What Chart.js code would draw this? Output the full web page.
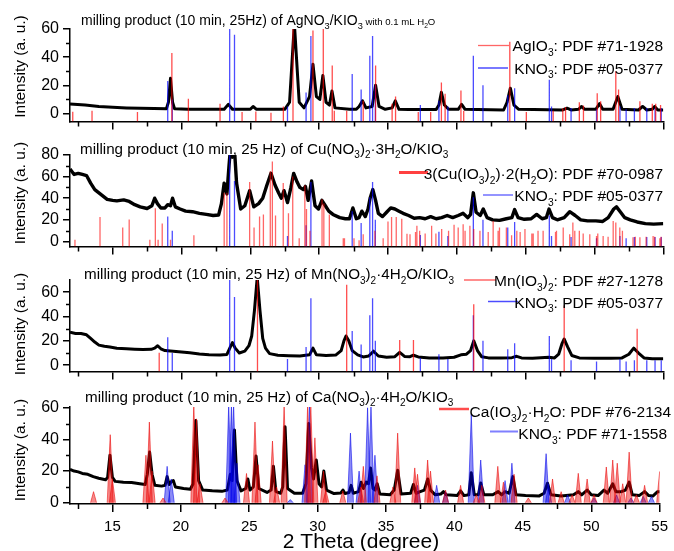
<!DOCTYPE html>
<html>
<head>
<meta charset="utf-8">
<script src="https://cdn.jsdelivr.net/npm/chart.js@4.4.1/dist/chart.umd.min.js"></script>
<style>
  html, body { margin: 0; padding: 0; background: #fff; }
  #wrap { position: relative; width: 674px; height: 551px; overflow: hidden; background: #fff; }
  #wrap canvas { position: absolute; left: 0; }
</style>
</head>
<body>
<div id="wrap">
  <canvas id="p1" width="674" height="135" style="top:0px"></canvas>
  <canvas id="p2" width="674" height="125" style="top:135px"></canvas>
  <canvas id="p3" width="674" height="125" style="top:260px"></canvas>
  <canvas id="p4" width="674" height="166" style="top:385px"></canvas>
</div>
<script>
// ---------- axis ticks ----------
const xMajorTicks = [15, 20, 25, 30, 35, 40, 45, 50, 55];
const xMinorTicks = [12.5, 17.5, 22.5, 27.5, 32.5, 37.5, 42.5, 47.5, 52.5];
const yTicksP1 = [0, 20, 40, 60];
const yTicksP2 = [0, 20, 40, 60, 80];
const yTicksP3 = [0, 20, 40, 60];
const yTicksP4 = [0, 20, 40, 60];

// ---------- measured patterns [2theta, intensity] ----------
const agPattern = [[11.9,6.8],[13,6],[14,5],[15,4.5],[16,4],[17,3.7],[18,3.5],[18.9,3.3],[19.05,8],[19.2,25],[19.35,8],[19.5,3.3],[20.5,3],[21.5,3],[23.1,3],[23.4,6.5],[23.7,3],[25.0,3],[25.2,5],[25.45,3],[27.5,3],[27.85,8],[28.05,40],[28.2,64],[28.35,40],[28.55,8],[28.9,4],[29.3,12],[29.55,35],[29.8,12],[30.05,10],[30.27,27],[30.5,8],[30.75,6],[30.93,16],[31.15,4],[32.2,3],[32.7,3],[32.9,5],[33.15,9],[33.4,4],[33.85,5],[34.1,20],[34.35,5],[34.8,3],[35.3,4],[35.53,9],[35.8,3],[36.5,2.8],[38.5,2.8],[38.7,6],[38.88,15],[39.1,6],[39.4,3],[40.1,3],[40.35,6.5],[40.6,3],[43.4,2.5],[43.65,8],[43.89,18],[44.15,6],[44.5,3],[47.7,2.5],[48.0,3.8],[48.3,2.5],[48.85,3],[49.05,5],[49.3,3],[50.1,3],[50.37,7],[50.6,3],[51.35,3],[51.7,12],[52.0,3],[53.2,2.5],[53.5,5],[53.8,2.5],[54.2,3],[54.37,5],[54.6,2.5],[55,2.5]];

const cuPattern = [[11.9,67],[12.2,62],[12.5,63],[12.8,62],[13.1,61],[13.4,54],[13.7,48],[14.0,45],[14.3,42],[14.6,39],[15.0,38],[15.3,37.5],[15.8,38.5],[16.2,37],[16.6,34],[17.0,32],[17.5,30.5],[17.85,33],[18.05,40],[18.25,35],[18.5,31],[18.8,31],[19.0,34],[19.2,33],[19.35,40],[19.55,32],[19.9,30],[20.3,28],[20.8,27.5],[21.3,26],[21.8,25],[22.3,24],[22.7,24.5],[22.9,35],[23.1,54],[23.3,44],[23.45,70],[23.55,85],[23.7,78],[23.85,85],[24.0,54],[24.3,30],[24.6,33],[24.95,47],[25.25,32],[25.6,35],[25.9,40],[26.2,52],[26.5,63],[26.8,52],[27.05,45],[27.25,40],[27.45,47],[27.7,36],[27.95,50],[28.15,63],[28.4,55],[28.6,50],[28.85,48],[29.0,51],[29.2,38],[29.45,56],[29.7,33],[29.95,30],[30.2,38],[30.45,33],[30.7,28],[31.0,25],[31.5,22],[31.9,21],[32.2,21],[32.45,31],[32.7,21],[32.9,22],[33.1,28],[33.35,23],[33.55,30],[33.7,40],[33.9,48],[34.1,38],[34.3,26],[34.6,23],[34.9,27],[35.2,31],[35.5,30],[35.8,28],[36.1,26],[36.5,24],[36.9,21.5],[37.3,22],[37.7,21],[38.1,23],[38.5,21],[38.9,22],[39.3,24],[39.7,22],[40.1,24],[40.45,26],[40.8,22],[41.0,25],[41.2,45],[41.4,27],[41.7,24],[41.92,30],[42.2,22],[42.6,20],[43.1,19.5],[43.6,21],[44.0,22],[44.2,29.5],[44.45,22],[44.9,20.5],[45.4,21],[45.8,25],[46.2,21],[46.5,22],[46.7,30],[46.95,22],[47.3,20],[47.8,22],[48.2,27.5],[48.6,24],[49.0,20],[49.5,19],[50.1,19],[50.6,18.5],[51.0,22],[51.4,30],[51.6,32],[51.9,27],[52.2,22],[52.6,20],[53.1,18],[53.7,16.5],[54.3,16],[55,16.5]];

const mnPattern = [[11.9,27],[12.3,26],[12.7,26],[13.1,25],[13.4,22],[13.7,19],[14.0,16.5],[14.4,15.5],[14.8,15],[15.3,14],[16.0,13.6],[16.6,13.2],[17.2,12.9],[17.8,13],[18.05,14],[18.27,16],[18.5,13.5],[18.8,12],[19.4,11.5],[20.0,10.8],[20.6,10.2],[21.3,9.2],[22.0,8.6],[22.8,8.3],[23.3,8.8],[23.55,15],[23.7,18.5],[23.9,14],[24.2,10],[24.6,11.5],[24.9,16],[25.1,24],[25.3,45],[25.5,72],[25.7,45],[25.9,22],[26.1,14],[26.4,9.5],[27.0,8.2],[27.8,7.8],[28.6,7.6],[29.3,8.5],[29.55,14],[29.8,8.5],[30.5,8],[31.2,8.3],[31.6,12],[31.8,20],[31.95,24],[32.15,20],[32.4,12],[32.8,8.5],[33.2,6.8],[33.6,7.5],[33.95,11.5],[34.3,7.5],[34.9,6.5],[35.5,7],[35.85,10.5],[36.2,7.2],[36.6,7],[36.85,8.2],[37.2,6.8],[38,6],[39,6],[39.8,6.5],[40.3,8.5],[40.7,9],[41.0,12],[41.23,20],[41.5,12],[41.8,7],[42.3,6],[43.2,6],[44.0,6.2],[44.35,7.3],[44.7,6],[45.5,5.8],[46.7,6.5],[47.1,6],[47.4,9],[47.65,18],[47.8,21.5],[48.05,15],[48.35,8],[48.9,6],[50,5.8],[51.2,5.8],[52.0,6],[52.5,9],[52.85,14],[53.2,10],[53.6,6],[54.2,5.2],[55,5.2]];

const caPattern = [[11.9,21],[12.2,20],[12.5,19.5],[12.8,18.5],[13.2,18],[13.6,16.5],[14.0,15.5],[14.5,14.5],[14.65,16],[14.82,30],[15.0,16],[15.2,13.5],[15.8,13],[16.4,12.8],[17.0,12],[17.4,11.5],[17.55,18],[17.72,32],[17.9,18],[18.1,11],[18.6,10.5],[18.85,11],[19.0,16.5],[19.15,11.5],[19.32,13.5],[19.45,14],[19.6,10],[20.2,9],[20.7,8.5],[20.9,12],[21.1,52],[21.3,14],[21.6,8],[22.3,7.5],[23.0,7.2],[23.4,8],[23.62,18],[23.75,14],[23.92,46],[24.1,14],[24.4,7.5],[24.75,9],[24.9,15],[25.05,8],[25.3,10],[25.5,29.5],[25.7,9],[26.3,6.5],[26.6,8],[26.77,23],[26.95,7],[27.3,6],[27.45,10],[27.62,48],[27.8,9],[28.3,6],[28.9,6],[29.15,12],[29.35,50],[29.55,22],[29.7,15],[29.9,27],[30.1,12],[30.3,10],[30.45,20],[30.65,8],[31.2,5.8],[31.7,6.2],[31.85,8],[32.0,5.8],[32.3,6.5],[32.45,11],[32.6,6],[33.0,7],[33.18,13],[33.35,9],[33.55,13],[33.72,12],[33.87,22],[34.05,9],[34.2,8],[34.35,12],[34.55,5.5],[35.3,5],[35.6,8],[35.85,20.5],[36.1,5.5],[36.8,6],[37.0,11.5],[37.2,6],[37.5,7],[37.8,8],[38.05,15],[38.25,8],[38.6,5],[39.0,5.5],[39.2,7],[39.4,5],[40.2,4.5],[40.45,7.5],[40.7,4.5],[41.05,5],[41.23,19],[41.45,5],[41.75,5],[41.92,12.5],[42.15,5],[42.8,5],[43.2,7],[43.45,5],[43.7,7],[44.0,6],[44.27,16.5],[44.5,5],[45.2,4.5],[46.2,4.3],[46.55,6],[46.8,12.3],[47.05,5],[47.8,4.3],[48.7,5],[49.05,7],[49.3,5],[49.7,8],[50.0,5],[50.5,4.5],[50.93,8],[51.2,6],[51.57,12],[51.8,7],[52.2,7],[52.5,8],[52.77,13],[53.0,5],[53.5,4.5],[53.9,7],[54.2,4.5],[54.5,4.2],[54.85,7],[55,7]];

// ---------- reference lines [2theta, relative intensity] ----------
const agio3Lines = [[12.1,1.3],[13.5,2],[16.8,1],[19.3,43],[20.5,10.5],[22.8,7],[24.4,1],[25.4,1.5],[26.5,0.5],[27.4,5],[28.1,100],[29.55,59],[30.3,60],[30.95,34],[31.1,2],[32.0,2],[33.2,9],[34.1,34],[35.3,7],[35.55,12],[37.2,1],[38.1,1],[38.88,22],[39.15,14],[40.3,16.4],[40.5,2],[43.85,51],[45.05,1],[47.0,2],[47.7,3.8],[47.9,4.7],[48.9,8],[49.2,5.6],[50.2,14.4],[50.45,8.7],[51.55,30],[51.75,17],[53.3,8.7],[54.2,7],[54.45,7],[54.8,6]];

const kno3Lines = [[19.0,23],[19.33,10],[23.5,100],[23.85,56],[27.7,5],[29.05,15],[29.4,55],[32.4,28],[33.05,17],[33.68,41],[33.88,55],[34.08,20],[37.35,6],[38.7,9],[39.35,5],[41.2,41],[41.9,20],[43.7,13],[44.2,18],[46.72,24],[46.88,5],[48.3,4],[50.15,3],[51.85,5],[52.3,3],[52.9,4],[53.8,4],[54.4,4],[54.85,4]];

const cuio3Lines = [[12.26,1.5],[14.08,22.7],[15.73,13],[16.2,20.4],[17.7,1.5],[18.1,30.6],[18.3,1.5],[18.6,16.6],[19.2,1.5],[20.9,5.8],[23.1,45],[23.3,45],[24.95,55],[25.27,13],[25.67,23],[25.95,25],[26.45,65],[26.6,74],[26.83,24],[27.39,54],[27.77,26],[28.08,60],[28.55,3],[28.96,52],[29.08,30],[29.33,10],[30.21,39],[30.34,35],[30.74,25],[31.75,3],[31.84,3],[32.53,3],[32.9,1],[33.2,6.7],[34.05,10],[34.65,3],[35.0,18.4],[35.26,22.5],[35.6,22.5],[36.0,21],[36.38,7],[36.6,6.7],[37.0,8.7],[37.1,14.6],[37.3,10],[37.7,7.3],[38.17,14.6],[38.48,7.3],[38.9,11.6],[39.4,10],[39.8,15.4],[40.1,13],[40.46,16],[40.6,10],[40.95,14.6],[41.23,11.6],[41.68,10],[42.28,8.7],[42.64,19],[43.0,10],[43.1,13],[43.6,13],[43.98,5.8],[44.36,10],[44.6,8.7],[44.95,11.6],[45.45,7.3],[45.55,7.3],[45.9,10],[46.27,10],[47.17,8.7],[47.24,10],[47.73,13],[48.2,6.7],[48.43,17.5],[48.57,10],[48.9,10],[49.18,7.3],[49.66,6.7],[50.15,5],[50.24,7.3],[50.63,5],[50.99,4.4],[51.36,19],[51.55,17.5],[51.84,13],[52.03,10],[52.8,3.8],[52.97,4.4],[53.3,3.8],[53.75,4.4],[54.26,5],[54.37,4.4],[54.75,3],[54.84,4.4]];

const mnio3Lines = [[18.38,10.3],[25.52,100],[32.0,66],[35.85,20.6],[36.85,20.6],[41.23,50],[47.8,49],[53.1,30]];

const caio3Peaks = [[13.62,7],[14.84,43],[15.0,15],[17.45,30],[17.7,51],[17.9,20],[18.7,3],[20.95,62],[21.15,53],[21.4,12],[23.23,3],[24.8,18.5],[25.42,51],[25.65,24],[26.7,39],[27.0,10],[27.55,62],[29.27,62],[29.5,62],[29.8,41],[30.43,20],[30.6,8],[31.84,7.5],[33.15,10],[33.34,23],[34.34,17],[35.5,10],[35.85,44],[37.1,22],[37.3,18],[38.04,27],[38.25,20],[39.35,8],[40.45,11],[41.6,5],[42.0,11],[43.17,23],[43.58,13],[44.36,18],[45.4,3],[47.17,15],[47.8,7],[48.6,5],[49.05,18.6],[49.7,15],[50.2,5],[51.1,22.6],[51.57,27],[51.9,25],[52.3,12],[52.77,32],[53.3,5],[53.9,11],[55,19.7]];

const kno3SimPeaks = [[19.0,23],[19.3,15],[23.5,62],[23.7,62],[23.86,62],[24.1,25],[28.0,2],[29.08,24],[29.4,62],[32.4,44],[33.03,20],[33.65,60],[33.9,62],[34.19,30],[37.3,11],[38.7,11],[39.35,7],[41.23,56],[41.92,27],[43.7,14],[44.2,25],[46.7,31],[46.88,12],[48.27,5],[50.2,3],[51.85,5],[52.9,3],[53.8,4],[54.4,4]];

// ---------- text ----------
const yTitle = 'Intensity (a. u.)';
const xTitle = '2 Theta (degree)';
const titleP1 = [['milling product (10 min, 25Hz) of AgNO','n'],['3','s'],['/KIO','n'],['3','s'],[' with 0.1 mL H','m'],['2','ms'],['O','m']];
const titleP2 = [['milling product (10 min, 25 Hz) of Cu(NO','n'],['3','s'],[')','n'],['2','s'],['\u00b73H','n'],['2','s'],['O/KIO','n'],['3','s']];
const titleP3 = [['milling product (10 min, 25 Hz) of Mn(NO','n'],['3','s'],[')','n'],['2','s'],['\u00b74H','n'],['2','s'],['O/KIO','n'],['3','s']];
const titleP4 = [['milling product (10 min, 25 Hz) of Ca(NO','n'],['3','s'],[')','n'],['2','s'],['\u00b74H','n'],['2','s'],['O/KIO','n'],['3','s']];
const legAg = [['AgIO','n'],['3','s'],[': PDF #71-1928','n']];
const legKno3a = [['KNO','n'],['3','s'],[': PDF #05-0377','n']];
const legCu = [['3(Cu(IO','n'],['3','s'],[')','n'],['2','s'],[')\u00b72(H','n'],['2','s'],['O): PDF #70-0987','n']];
const legMn = [['Mn(IO','n'],['3','s'],[')','n'],['2','s'],[': PDF #27-1278','n']];
const legCa = [['Ca(IO','n'],['3','s'],[')','n'],['2','s'],['\u00b7H','n'],['2','s'],['O: PDF #76-2134','n']];
const legKno3b = [['KNO','n'],['3','s'],[': PDF #71-1558','n']];

// ---------- helpers ----------
const FONT = '"Liberation Sans", Arial, Helvetica, sans-serif';
Chart.defaults.font.family = FONT;
Chart.defaults.color = '#000';

const toXY = arr => arr.map(([x, y]) => ({ x, y }));

// vertical reference sticks rising from the bottom of the axis
function stickPoints(lines, base) {
  const pts = [];
  lines.forEach(([x, h]) => { pts.push({ x, y: base }, { x, y: h }, { x, y: null }); });
  return pts;
}

// narrow filled profiles for the simulated reference patterns
function profilePoints(peaks, halfWidth) {
  const pts = [];
  peaks.forEach(([x, h]) => {
    pts.push({ x: x - halfWidth, y: 0 }, { x, y: h }, { x: x + halfWidth, y: 0 }, { x: x + halfWidth, y: null });
  });
  return pts;
}

function drawRuns(ctx, runs, x, y, f, alignRight, smallF) {
  const sf = smallF || f * 0.68;
  const parts = runs.map(([t, k]) => {
    let size = f, dy = 0;
    if (k === 's') { size = f * 0.66; dy = f * 0.3; }
    else if (k === 'm') { size = sf; }
    else if (k === 'ms') { size = sf * 0.7; dy = sf * 0.3; }
    ctx.font = size + 'px ' + FONT;
    return { t, size, dy, w: ctx.measureText(t).width };
  });
  let cx = alignRight ? x - parts.reduce((s, p) => s + p.w, 0) : x;
  ctx.textAlign = 'left';
  ctx.textBaseline = 'alphabetic';
  parts.forEach(p => {
    ctx.font = p.size + 'px ' + FONT;
    ctx.fillText(p.t, cx, y + p.dy);
    cx += p.w;
  });
}

function decorPlugin(spec) {
  return {
    id: 'decor_' + spec.id,
    afterDraw(chart) {
      const { ctx, chartArea: a, scales: { x, y } } = chart;
      ctx.save();
      // minor ticks
      ctx.strokeStyle = '#000';
      ctx.lineWidth = 1.5;
      ctx.beginPath();
      xMinorTicks.forEach(v => {
        const px = Math.round(x.getPixelForValue(v)) + 0.5;
        ctx.moveTo(px, a.bottom); ctx.lineTo(px, a.bottom + 5);
      });
      spec.yMinor.forEach(v => {
        const py = Math.round(y.getPixelForValue(v)) + 0.5;
        ctx.moveTo(a.left, py); ctx.lineTo(a.left - 4, py);
      });
      ctx.stroke();

      ctx.translate(0, -spec.top);
      ctx.fillStyle = '#000';
      // panel caption
      drawRuns(ctx, spec.title, spec.titleX, spec.titleY, spec.titleSize, false, 9.6);
      // legend
      spec.legend.forEach(l => {
        ctx.strokeStyle = l.color;
        ctx.lineWidth = l.lw;
        ctx.beginPath();
        ctx.moveTo(l.x0, l.ly); ctx.lineTo(l.x1, l.ly);
        ctx.stroke();
        ctx.fillStyle = '#000';
        drawRuns(ctx, l.runs, l.right, l.y, 15.5, true);
      });
      // y title
      ctx.save();
      ctx.translate(21, spec.yTitleY);
      ctx.rotate(-Math.PI / 2);
      ctx.font = '15.5px ' + FONT;
      ctx.textAlign = 'center';
      ctx.textBaseline = 'middle';
      ctx.fillStyle = '#000';
      ctx.fillText(yTitle, 0, 0);
      ctx.restore();
      // x title
      if (spec.xTitle) {
        ctx.font = '21px ' + FONT;
        ctx.textAlign = 'center';
        ctx.textBaseline = 'alphabetic';
        ctx.fillText(xTitle, 361, 548);
      }
      ctx.restore();
    }
  };
}

function makePanel(spec) {
  const datasets = spec.datasets.map(d => Object.assign({
    pointRadius: 0, pointHoverRadius: 0, tension: 0, spanGaps: false, fill: false, borderJoinStyle: 'round'
  }, d));
  new Chart(document.getElementById(spec.id), {
    type: 'line',
    data: { datasets },
    options: {
      responsive: false,
      animation: false,
      devicePixelRatio: 1,
      events: [],
      layout: { padding: { top: spec.padTop, right: 674 - 663.3, left: 0, bottom: 0 } },
      plugins: { legend: { display: false }, tooltip: { enabled: false }, title: { display: false } },
      scales: {
        x: {
          type: 'linear', min: 11.9, max: 55,
          afterBuildTicks: s => { s.ticks = xMajorTicks.map(v => ({ value: v })); },
          afterFit: s => { s.height = spec.xh; },
          ticks: { display: spec.xLabels, font: { size: 15 }, color: '#000', padding: 6, maxRotation: 0, autoSkip: false, callback: v => String(v) },
          grid: { display: true, drawOnChartArea: false, drawTicks: true, tickLength: 8, color: '#000', lineWidth: 1.5 },
          border: { display: true, color: '#000', width: 1.5 }
        },
        y: {
          type: 'linear', min: spec.yMin, max: spec.yMax,
          afterBuildTicks: s => { s.ticks = spec.yMajor.map(v => ({ value: v })); },
          afterFit: s => { s.width = 70; },
          ticks: { font: { size: 16 }, color: '#000', padding: 4, callback: v => String(v) },
          grid: { display: true, drawOnChartArea: false, drawTicks: true, tickLength: 7, color: '#000', lineWidth: 1.5 },
          border: { display: true, color: '#000', width: 1.5 }
        }
      }
    },
    plugins: [decorPlugin(spec)]
  });
}

const RED = 'rgba(255,0,0,0.7)';
const BLUE = 'rgba(0,0,255,0.7)';

makePanel({
  id: 'p1', top: 0, padTop: 29, xh: 8, yMin: -5.6, yMax: 60, yMajor: yTicksP1, yMinor: [10, 30, 50], xLabels: false,
  title: titleP1, titleSize: 14, titleX: 81, titleY: 25, yTitleY: 66.5,
  legend: [
    { runs: legAg, right: 663, y: 51, x0: 478, x1: 509, ly: 45.5, color: 'rgba(255,0,0,0.6)', lw: 1.3 },
    { runs: legKno3a, right: 663, y: 73.5, x0: 478, x1: 508, ly: 68, color: BLUE, lw: 1.5 }
  ],
  datasets: [
    { data: stickPoints(agio3Lines, -5.6), borderColor: RED, borderWidth: 1.3, order: 1 },
    { data: stickPoints(kno3Lines, -5.6), borderColor: BLUE, borderWidth: 1.3, order: 2 },
    { data: toXY(agPattern), borderColor: '#000', borderWidth: 3, order: 3 }
  ]
});

makePanel({
  id: 'p2', top: 135, padTop: 20, xh: 8, yMin: -4.6, yMax: 80, yMajor: yTicksP2, yMinor: [10, 30, 50, 70], xLabels: false,
  title: titleP2, titleSize: 15.2, titleX: 80, titleY: 153.5, yTitleY: 193,
  legend: [
    { runs: legCu, right: 663, y: 179, x0: 399, x1: 428, ly: 172.5, color: 'rgba(255,0,0,0.75)', lw: 3 },
    { runs: legKno3a, right: 663, y: 201, x0: 483, x1: 513, ly: 195, color: BLUE, lw: 1.2 }
  ],
  datasets: [
    { data: stickPoints(cuio3Lines, -4.6), borderColor: 'rgba(255,0,0,0.6)', borderWidth: 1.3, order: 1 },
    { data: stickPoints(kno3Lines, -4.6), borderColor: BLUE, borderWidth: 1.3, order: 2 },
    { data: toXY(cuPattern), borderColor: '#000', borderWidth: 3.4, order: 3 }
  ]
});

makePanel({
  id: 'p3', top: 260, padTop: 20, xh: 7, yMin: -5.1, yMax: 70, yMajor: yTicksP3, yMinor: [10, 30, 50], xLabels: false,
  title: titleP3, titleSize: 15.2, titleX: 84, titleY: 279, yTitleY: 324,
  legend: [
    { runs: legMn, right: 663, y: 286, x0: 464, x1: 496, ly: 280, color: 'rgba(255,0,0,0.6)', lw: 1.5 },
    { runs: legKno3a, right: 663, y: 307.5, x0: 488, x1: 518, ly: 301.5, color: BLUE, lw: 1.5 }
  ],
  datasets: [
    { data: stickPoints(mnio3Lines, -5.1), borderColor: RED, borderWidth: 1.3, order: 1 },
    { data: stickPoints(kno3Lines, -5.1), borderColor: BLUE, borderWidth: 1.3, order: 2 },
    { data: toXY(mnPattern), borderColor: '#000', borderWidth: 3, order: 3 }
  ]
});

makePanel({
  id: 'p4', top: 385, padTop: 22, xh: 47, yMin: -0.8, yMax: 60.5, yMajor: yTicksP4, yMinor: [10, 30, 50], xLabels: true, xTitle: true,
  title: titleP4, titleSize: 15.2, titleX: 85, titleY: 401.5, yTitleY: 450,
  legend: [
    { runs: legCa, right: 671, y: 417, x0: 439, x1: 469, ly: 409, color: 'rgba(255,0,0,0.7)', lw: 2.5 },
    { runs: legKno3b, right: 667, y: 439, x0: 490, x1: 518, ly: 431.5, color: 'rgba(0,0,255,0.5)', lw: 2 }
  ],
  datasets: [
    { data: profilePoints(caio3Peaks, 0.22), borderColor: 'rgba(235,0,0,0.55)', backgroundColor: 'rgba(235,0,0,0.45)', borderWidth: 1, fill: 'origin', order: 1 },
    { data: profilePoints(kno3SimPeaks, 0.22), borderColor: 'rgba(0,0,235,0.55)', backgroundColor: 'rgba(0,0,235,0.45)', borderWidth: 1, fill: 'origin', order: 2 },
    { data: toXY(caPattern), borderColor: '#000', borderWidth: 3, order: 3 }
  ]
});
</script>
</body>
</html>
